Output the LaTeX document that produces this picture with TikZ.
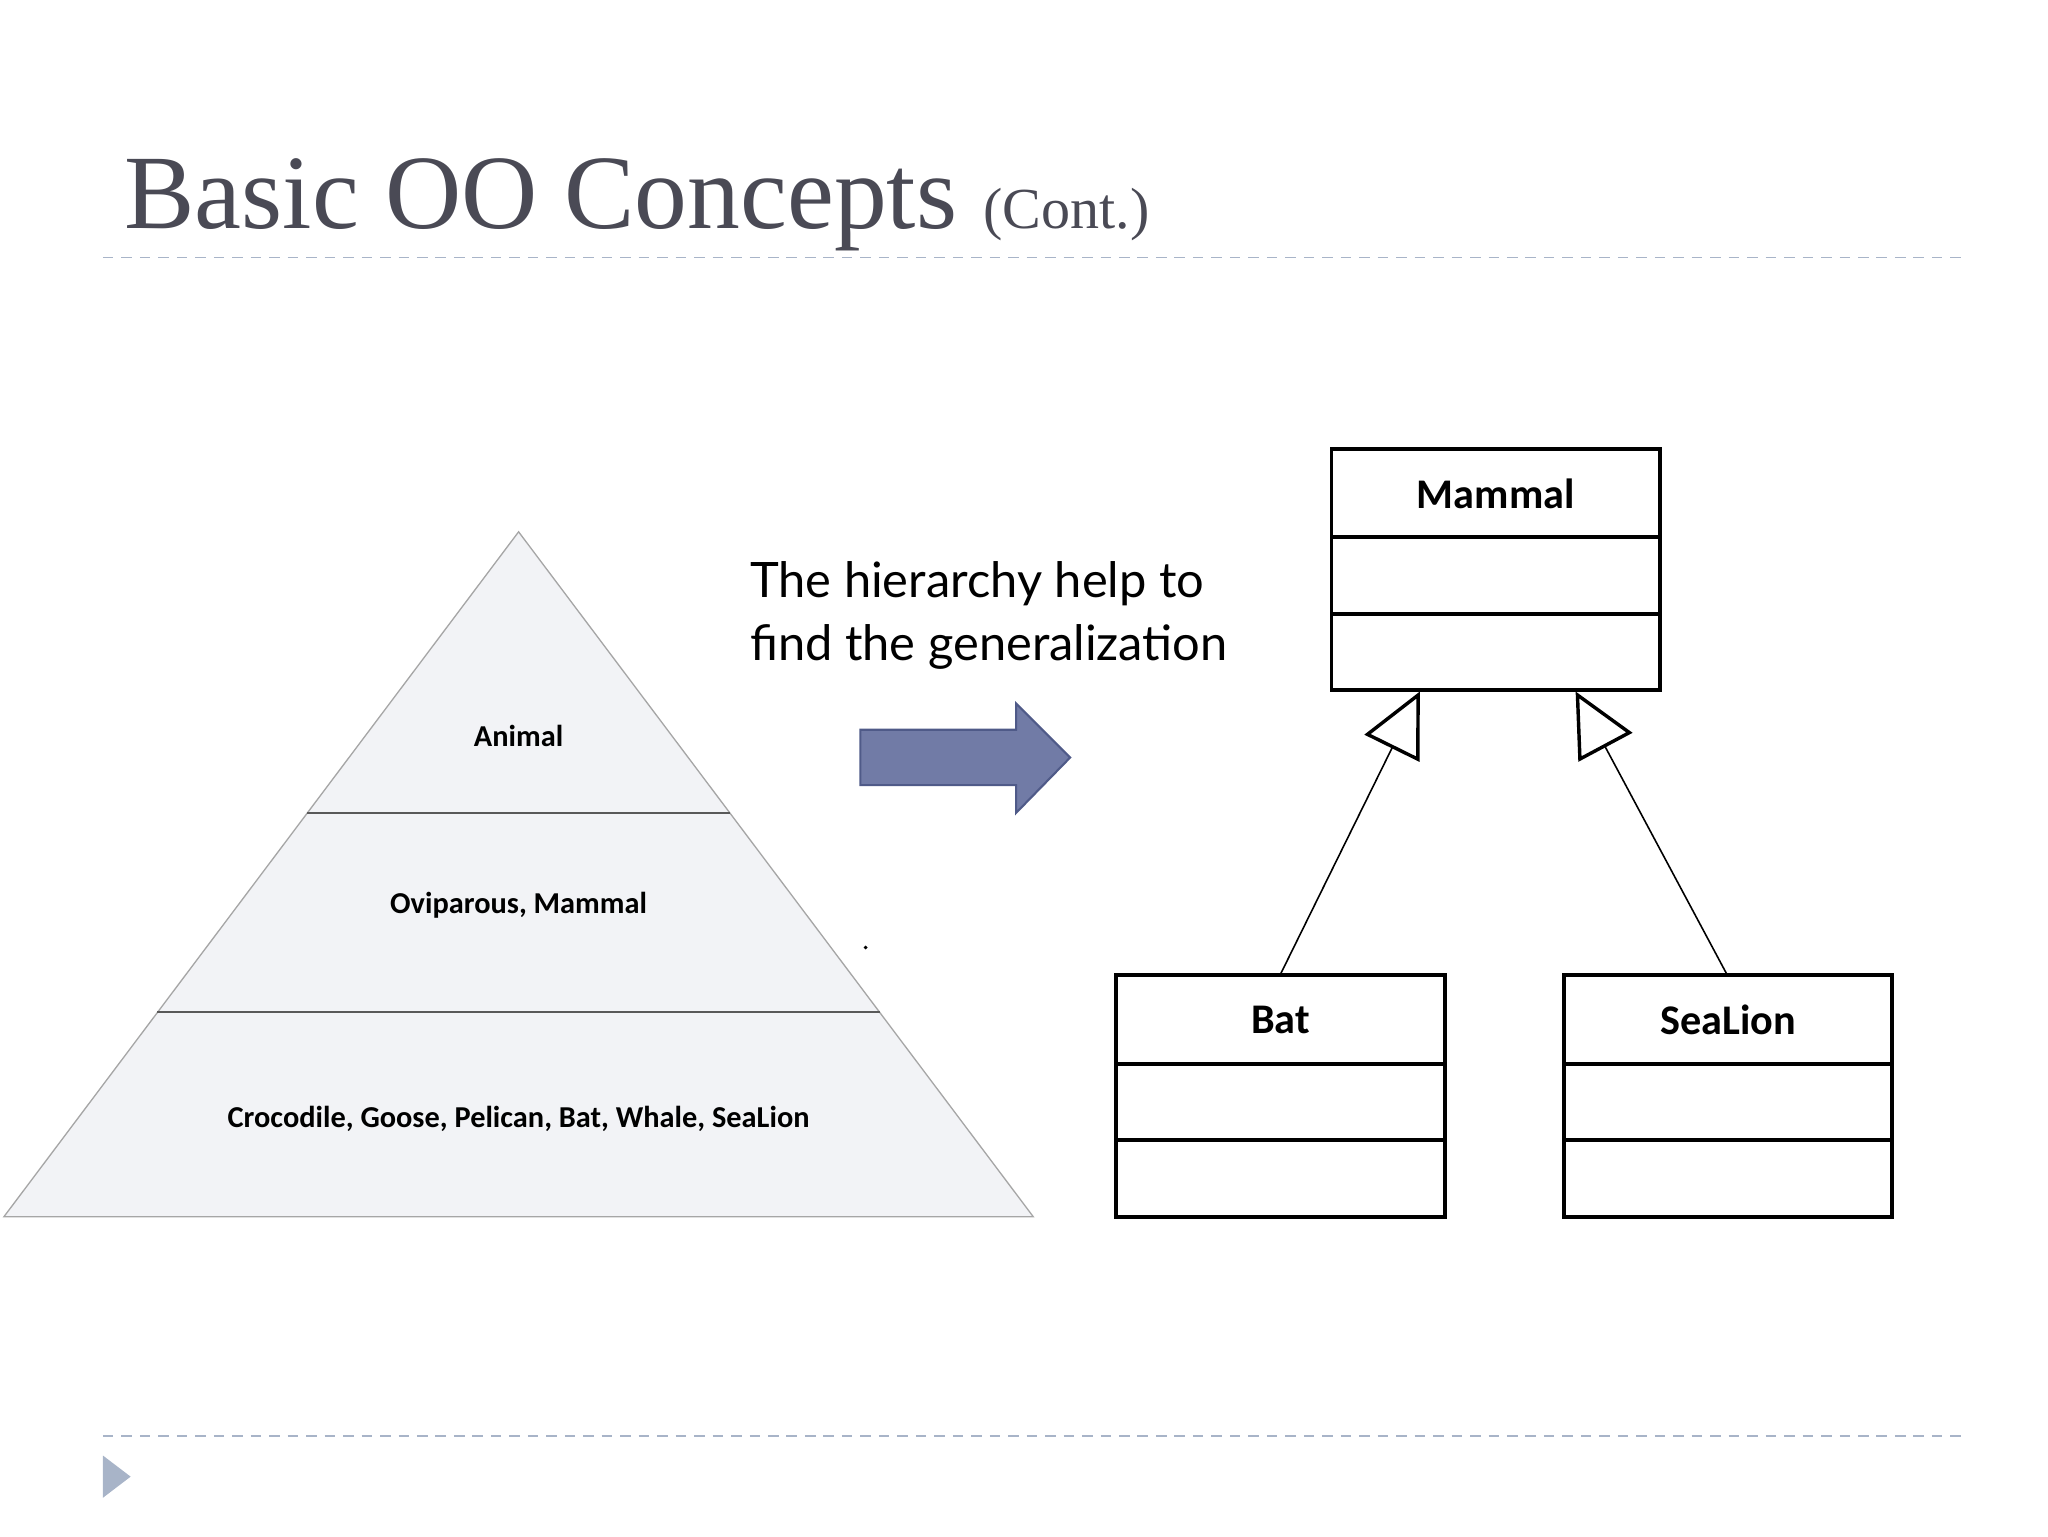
\documentclass[tikz,border=0pt]{standalone}
\usepackage{fontspec}
\setmainfont{Liberation Serif}
\newfontfamily\gillfnt{Lato}
\newfontfamily\calfnt{Carlito}
\usetikzlibrary{arrows.meta,shapes.arrows}
\definecolor{titlegray}{HTML}{4A4A55}
\definecolor{dashc}{HTML}{A8B4C8}
\definecolor{arrowf}{HTML}{717BA6}
\definecolor{arrowd}{HTML}{4F5A88}
\definecolor{pyr}{HTML}{F2F3F6}
\tikzset{
 pyrlabel/.style={font=\calfnt\bfseries\fontsize{11.5}{13}\selectfont},
 umlbox/.style={draw,line width=1.5pt,minimum width=124.5pt,minimum height=91.5pt,inner sep=0},
 umltxt/.style={font=\calfnt\bfseries\fontsize{16}{18}\selectfont},
 gen/.style={line width=0.6pt,-{Triangle[open,length=24pt,width=23pt,line width=1.3pt]}},
 dashline/.style={dashc,dashed,dash pattern=on 4pt off 3pt,line width=0.6pt}
}
\begin{document}
\begin{tikzpicture}[x=0.5pt,y=-0.5pt]
\useasboundingbox (0,0) rectangle (1552,1164);
% title
\node[anchor=base west,text=titlegray,inner sep=0,font=\fontsize{40}{44}\selectfont] (title) at (94,173) {Basic OO Concepts {\fontsize{22}{24}\selectfont (Cont.)}};
\draw[dashline] (78,195) -- (1490,195);
\draw[dashline] (78,1088) -- (1490,1088);
\fill[dashc] (78,1103) -- (99,1119) -- (78,1135) -- cycle;
% pyramid
\fill[pyr] (393,403) -- (783,922) -- (3,922) -- cycle;
\draw[gray!70,line width=0.5pt] (393,403) -- (783,922) -- (3,922) -- cycle;
\draw[gray!70!black,line width=0.5pt] (233,616) -- (553,616);
\draw[gray!70!black,line width=0.5pt] (119,767) -- (667,767);
\node[pyrlabel] (animal) at (393,558) {Animal};
\node[pyrlabel] (ovi) at (393,686) {Oviparous, Mammal};
\node[pyrlabel] (croc) at (393,848) {Crocodile, Goose, Pelican, Bat, Whale, SeaLion};
\fill (656,718) circle (1.5);
% text
\node[anchor=north west,align=left,inner sep=0,font=\gillfnt\fontsize{18.5}{24}\selectfont] (txt) at (568,425) {The hierarchy help to\\find the generalization};
% block arrow
\draw[fill=arrowf,draw=arrowd,line width=0.8pt] (652,553) -- (770,553) -- (770,533) -- (811,574) -- (770,616) -- (770,595) -- (652,595) -- cycle;
% UML
\node[umlbox] (mammal) at (1133.5,431.5) {};
\draw[line width=1.5pt] (1009,407) -- (1258,407) (1009,465) -- (1258,465);
\node[umltxt] at (1133.5,374) {Mammal};
\node[umlbox] (bat) at (970.5,830.5) {};
\draw[line width=1.5pt] (846,806) -- (1095,806) (846,864) -- (1095,864);
\node[umltxt] at (970.5,773) {Bat};
\node[umlbox] (sea) at (1309.5,830.5) {};
\draw[line width=1.5pt] (1185,806) -- (1434,806) (1185,864) -- (1434,864);
\node[umltxt] at (1309.5,773) {SeaLion};
\coordinate (t1) at (1076,524);
\coordinate (t2) at (1194,524);
\draw[gen] (970,739) -- (t1);
\draw[gen] (1309,739) -- (t2);
\end{tikzpicture}
\end{document}
